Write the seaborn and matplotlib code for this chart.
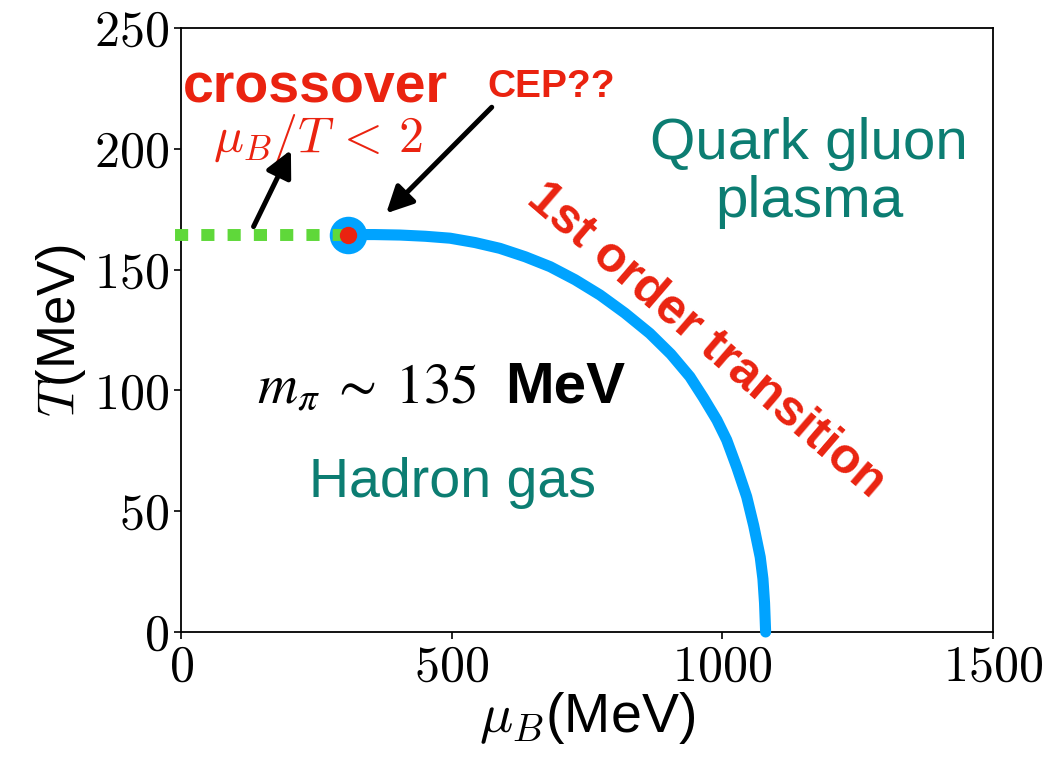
import matplotlib.pyplot as plt
import pandas as pd
import seaborn as sns

# linha de transicao de 1a ordem
mu_b = [309, 357, 405, 451, 497, 543, 589, 636, 682, 728, 774, 820, 866, 905,
        940, 965, 990, 1008, 1027, 1045, 1058, 1070, 1075, 1078, 1080]
temp = [164.5, 164.5, 164.3, 163.8, 163, 161.2, 158.8, 155.3, 151.2, 145.8,
        139.5, 132, 123.6, 115, 105.7, 97, 87.7, 79.5, 68, 56, 44, 31, 22, 12, 0]

# crossover (tracejado verde) e ponto critico
mu_cross = [0, 309]
t_cross = [164.5, 164.5]
mu_cep = [309]
t_cep = [164.5]

x_ticks = [0, 500, 1000, 1500]
y_ticks = [0, 50, 100, 150, 200, 250]

RED = '#EA2310'
TEAL = '#0C7D72'
BLUE = '#00A3FF'
GREEN = '#5FD83A'


def gerar_diagrama():
    sns.set_style('ticks')
    plt.rcParams['font.family'] = ['Liberation Sans', 'DejaVu Sans']
    plt.rcParams['mathtext.fontset'] = 'cm'
    for k in ['text.color', 'axes.labelcolor', 'xtick.color', 'ytick.color',
              'axes.edgecolor']:
        plt.rcParams[k] = 'black'

    transicao = pd.DataFrame({'mu': mu_b, 'T': temp})
    crossover = pd.DataFrame({'mu': mu_cross, 'T': t_cross})
    cep = pd.DataFrame({'mu': mu_cep, 'T': t_cep})

    fig, ax = plt.subplots(figsize=(10.47, 7.63), dpi=100)
    fig.subplots_adjust(left=0.1729, right=0.9484, top=0.9633, bottom=0.1717)

    sns.lineplot(data=transicao, x='mu', y='T', ax=ax, color=BLUE, lw=8,
                 sort=False, estimator=None, clip_on=False, zorder=3,
                 solid_joinstyle='round')
    sns.scatterplot(data=cep, x='mu', y='T', ax=ax, color=BLUE, s=27 ** 2,
                    linewidth=0, zorder=4, clip_on=False)
    sns.lineplot(data=crossover, x='mu', y='T', ax=ax, color=GREEN, lw=8.6,
                 linestyle=(0, (0.1, 2.1)), dash_capstyle='projecting',
                 sort=False, estimator=None, clip_on=False, zorder=5)
    sns.scatterplot(data=cep, x='mu', y='T', ax=ax, color=RED, s=12.5 ** 2,
                    linewidth=0, zorder=6, clip_on=False)

    ax.set_xlim(0, 1500)
    ax.set_ylim(0, 250)
    ax.set_xticks(x_ticks)
    ax.set_xticklabels([f'${v}$' for v in x_ticks])
    ax.set_yticks(y_ticks)
    ax.set_yticklabels([f'${v}$' for v in y_ticks])
    ax.tick_params(labelsize=36, length=5, width=1.2, direction='out', pad=4,
                   colors='black')
    for sp in ax.spines.values():
        sp.set_linewidth(1.3)
        sp.set_color('black')

    ax.set_xlabel(r'$\mu_B$(MeV)', fontsize=40, labelpad=0)
    ax.set_ylabel(r'$T$(MeV)', fontsize=38, labelpad=4)

    # setas
    seta = dict(arrowstyle='-|>', lw=3.6, color='black', shrinkA=0, shrinkB=0,
                mutation_scale=40)
    ax.annotate('', xy=(203, 199.5), xytext=(134, 167.8), arrowprops=seta, zorder=7)
    ax.annotate('', xy=(379, 173.3), xytext=(574, 217.2), arrowprops=seta, zorder=7)

    # textos
    ax.text(249, 219, 'crossover', color=RED, fontsize=40, fontweight='bold',
            ha='center', va='baseline')
    ax.text(252, 198.5, r'$\mu_B/T\,<\,2$', color=RED, fontsize=36,
            ha='center', va='baseline')
    ax.text(683, 221.6, 'CEP??', color=RED, fontsize=28, fontweight='bold',
            ha='center', va='baseline')
    ax.text(1160, 190, 'Quark gluon\nplasma', color=TEAL, fontsize=42,
            ha='center', va='center', linespacing=1.1)
    ax.text(502, 56, 'Hadron gas', color=TEAL, fontsize=40,
            ha='center', va='baseline')
    ax.text(548, 94.8, r'$m_\pi\;\sim\;135$', color='black', fontsize=40,
            ha='right', va='baseline', math_fontfamily='stix')
    ax.text(599, 94.8, 'MeV', color='black', fontsize=42, fontweight='bold',
            ha='left', va='baseline')
    ax.text(970, 120.4, '1st order transition', color=RED, fontsize=36,
            fontweight='bold', rotation=-40.7, rotation_mode='anchor',
            ha='center', va='center')

    fig.savefig('out.png', dpi=100)
    plt.close(fig)


if __name__ == "__main__":
    gerar_diagrama()
